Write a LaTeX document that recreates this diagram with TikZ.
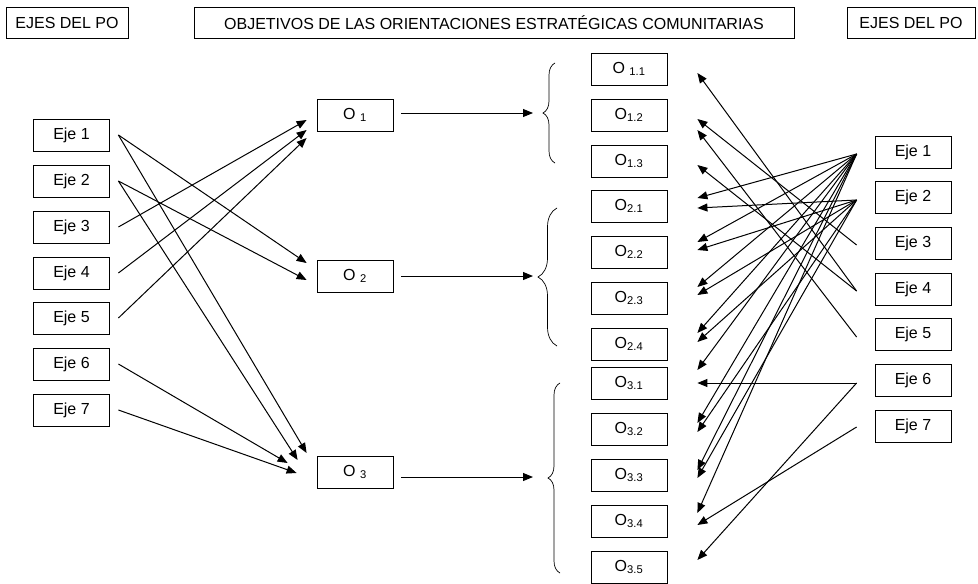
\documentclass[tikz,border=0pt]{standalone}
\usepackage{fontspec}
\setmainfont{Liberation Sans}
\usetikzlibrary{arrows.meta,calc,decorations.pathreplacing}
\begin{document}
\begin{tikzpicture}[x=1pt,y=-1pt,every node/.style={font=\fontsize{16}{19}\selectfont},
  caja/.style={draw,line width=0.8pt,minimum width=76pt,minimum height=32pt,inner sep=0pt},
  flecha/.style={-{Triangle[length=10pt,width=8pt]},line width=1pt},
  llave/.style={decorate,decoration={brace,amplitude=#1},line width=0.7pt}]
  \useasboundingbox (0,0) rectangle (978,584);
  \node[caja,minimum width=122pt,minimum height=31pt] (ejesizq) at (67,23) {EJES DEL PO};
  \node[caja,minimum width=600pt,minimum height=31pt] (objetivos) at (494,23) {OBJETIVOS DE LAS ORIENTACIONES ESTRATÉGICAS COMUNITARIAS};
  \node[caja,minimum width=128pt,minimum height=31pt] (ejesder) at (911,23) {EJES DEL PO};
  \node[caja] (e1) at (71.5,135) {Eje 1};
  \node[caja] (e2) at (71.5,181) {Eje 2};
  \node[caja] (e3) at (71.5,227) {Eje 3};
  \node[caja] (e4) at (71.5,273) {Eje 4};
  \node[caja] (e5) at (71.5,318) {Eje 5};
  \node[caja] (e6) at (71.5,364) {Eje 6};
  \node[caja] (e7) at (71.5,410) {Eje 7};
  \node[caja] (o1) at (355,115) {O \textsubscript{1}};
  \node[caja] (o2) at (355,276) {O \textsubscript{2}};
  \node[caja] (o3) at (355,472) {O \textsubscript{3}};
  \node[caja] (o11) at (629,69) {O \textsubscript{1.1}};
  \node[caja] (o12) at (629,115) {O\textsubscript{1.2}};
  \node[caja] (o13) at (629,161) {O\textsubscript{1.3}};
  \node[caja] (o21) at (629,206) {O\textsubscript{2.1}};
  \node[caja] (o22) at (629,252) {O\textsubscript{2.2}};
  \node[caja] (o23) at (629,298) {O\textsubscript{2.3}};
  \node[caja] (o24) at (629,344) {O\textsubscript{2.4}};
  \node[caja] (o31) at (629,383) {O\textsubscript{3.1}};
  \node[caja] (o32) at (629,429) {O\textsubscript{3.2}};
  \node[caja] (o33) at (629,475) {O\textsubscript{3.3}};
  \node[caja] (o34) at (629,521) {O\textsubscript{3.4}};
  \node[caja] (o35) at (629,567) {O\textsubscript{3.5}};
  \node[caja] (r1) at (913,152) {Eje 1};
  \node[caja] (r2) at (913,197) {Eje 2};
  \node[caja] (r3) at (913,243) {Eje 3};
  \node[caja] (r4) at (913,289) {Eje 4};
  \node[caja] (r5) at (913,334) {Eje 5};
  \node[caja] (r6) at (913,380) {Eje 6};
  \node[caja] (r7) at (913,426) {Eje 7};
  \coordinate (ll1) at (533,113);
  \coordinate (ll2) at (533,276);
  \coordinate (ll3) at (533,477);
  \draw[llave=12pt] (555,163) -- (555,63);
  \draw[llave=19pt] (557,346) -- (557,208);
  \draw[llave=12pt] (560,573) -- (560,383);
  \draw[flecha] ($(o1.east)+(8,-2)$) -- (ll1);
  \draw[flecha] ($(o2.east)+(8,0)$) -- (ll2);
  \draw[flecha] ($(o3.east)+(8,5)$) -- (ll3);
  \draw[flecha] ($(e1.east)+(8.5,0)$) -- ($(o2.west)+(-10,-13)$);
  \draw[flecha] ($(e1.east)+(8.5,0)$) -- ($(o3.west)+(-10,-19)$);
  \draw[flecha] ($(e2.east)+(8.5,0)$) -- ($(o2.west)+(-10,4)$);
  \draw[flecha] ($(e2.east)+(8.5,0)$) -- ($(o3.west)+(-19,-12)$);
  \draw[flecha] ($(e3.east)+(8.5,0)$) -- ($(o1.west)+(-10,5)$);
  \draw[flecha] ($(e4.east)+(8.5,0)$) -- ($(o1.west)+(-10,15)$);
  \draw[flecha] ($(e5.east)+(8.5,0)$) -- ($(o1.west)+(-10,23)$);
  \draw[flecha] ($(e6.east)+(8.5,0)$) -- ($(o3.west)+(-29,-9)$);
  \draw[flecha] ($(e7.east)+(8.5,0)$) -- ($(o3.west)+(-20,1)$);
  \draw[flecha] ($(r1.west)+(-18,2)$) -- ($(o21.east)+(30,-8)$);
  \draw[flecha] ($(r1.west)+(-18,2)$) -- ($(o22.east)+(30,-10)$);
  \draw[flecha] ($(r1.west)+(-18,2)$) -- ($(o23.east)+(30,-11)$);
  \draw[flecha] ($(r1.west)+(-18,2)$) -- ($(o24.east)+(30,-11)$);
  \draw[flecha] ($(r1.west)+(-18,2)$) -- ($(o31.east)+(30,-13)$);
  \draw[flecha] ($(r1.west)+(-18,2)$) -- ($(o32.east)+(30,-6)$);
  \draw[flecha] ($(r1.west)+(-18,2)$) -- ($(o33.east)+(30,-5)$);
  \draw[flecha] ($(r1.west)+(-18,2)$) -- ($(o34.east)+(30,-8)$);
  \draw[flecha] ($(r2.west)+(-18,3)$) -- ($(o21.east)+(30,2)$);
  \draw[flecha] ($(r2.west)+(-18,3)$) -- ($(o22.east)+(30,-2)$);
  \draw[flecha] ($(r2.west)+(-18,3)$) -- ($(o23.east)+(30,-3)$);
  \draw[flecha] ($(r2.west)+(-18,3)$) -- ($(o24.east)+(30,-2)$);
  \draw[flecha] ($(r2.west)+(-18,3)$) -- ($(o32.east)+(30,3)$);
  \draw[flecha] ($(r2.west)+(-18,3)$) -- ($(o33.east)+(30,3)$);
  \draw[flecha] ($(r3.west)+(-18,2)$) -- ($(o12.east)+(30,4)$);
  \draw[flecha] ($(r4.west)+(-18,2)$) -- ($(o11.east)+(30,4)$);
  \draw[flecha] ($(r4.west)+(-18,2)$) -- ($(o13.east)+(30,4)$);
  \draw[flecha] ($(r5.west)+(-18,3)$) -- ($(o12.east)+(30,15)$);
  \draw[flecha] ($(r6.west)+(-18,3)$) -- ($(o31.east)+(30,0)$);
  \draw[flecha] ($(r6.west)+(-18,3)$) -- ($(o35.east)+(30,-7)$);
  \draw[flecha] ($(r7.west)+(-18,1)$) -- ($(o34.east)+(30,4)$);
\end{tikzpicture}
\end{document}
